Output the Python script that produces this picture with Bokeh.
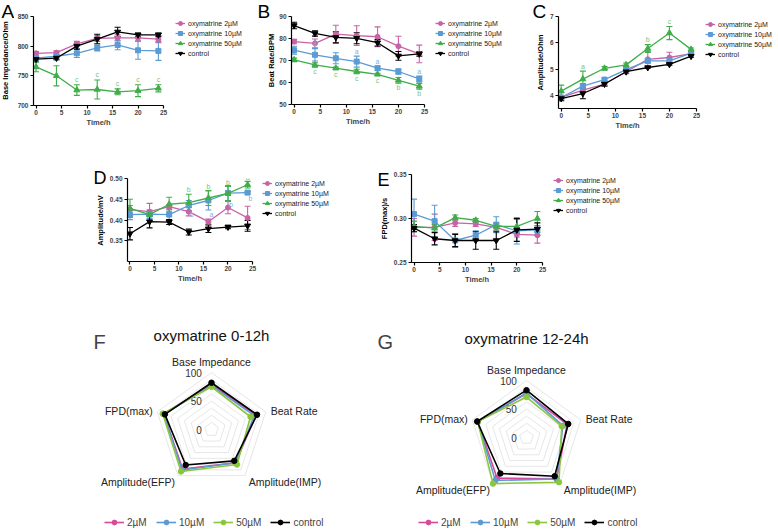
import math
from bokeh.plotting import figure
from bokeh.models import (ColumnDataSource, Whisker, TeeHead, Legend, LegendItem,
                          Label, Range1d, FixedTicker, Spacer, PrintfTickFormatter)
from bokeh.layouts import row, column
from bokeh.embed import file_html
from bokeh.resources import INLINE
from bokeh.core.properties import value

FONT = "Liberation Sans"

# ---------------- data ----------------
time_h = [0, 4, 8, 12, 16, 20, 24]
series_names = ["oxymatrine 2\u00b5M", "oxymatrine 10\u00b5M", "oxymatrine 50\u00b5M", "control"]

# A: Base impedance (Ohm)
imp_2 = [788, 789, 804, 813, 814, 814, 812]
imp_2_err = [3, 3, 4, 5, 5, 5, 6]
imp_10 = [780, 783, 788, 797, 802, 793, 792]
imp_10_err = [3, 6, 7, 5, 8, 15, 16]
imp_50 = [765, 750, 726, 727, 723, 725, 729]
imp_50_err = [8, 17, 9, 16, 5, 10, 6]
imp_ctl = [778, 780, 800, 812, 824, 819, 819]
imp_ctl_err = [3, 3, 5, 8, 8, 3, 3]
imp_50_sig = ["", "", "c", "c", "c", "c", "c"]

# B: Beat rate (BPM)
br_2 = [78.6, 77.8, 82.0, 81.3, 80.8, 76.5, 73.0]
br_2_err = [1.0, 2.0, 4.0, 4.5, 4.5, 4.5, 4.0]
br_10 = [74.7, 72.6, 71.0, 69.5, 66.5, 65.0, 61.6]
br_10_err = [1.8, 2.8, 2.5, 2.5, 1.0, 1.2, 1.3]
br_50 = [70.3, 68.0, 66.5, 65.0, 63.7, 61.0, 58.3]
br_50_err = [0.8, 1.0, 0.5, 1.0, 0.5, 1.3, 1.3]
br_ctl = [85.9, 82.3, 80.5, 80.1, 78.1, 72.1, 73.0]
br_ctl_err = [1.5, 1.2, 2.5, 2.5, 1.5, 2.0, 1.0]
br_10_sig = ["", "a", "", "a", "a", "", "a"]
br_50_sig = ["", "c", "c", "c", "c", "b", "b"]

# C: Amplitude (Ohm)
amp_2 = [3.92, 4.20, 4.43, 4.90, 5.37, 5.44, 5.59]
amp_2_err = [0.06, 0.10, 0.06, 0.08, 0.30, 0.20, 0.04]
amp_10 = [3.92, 4.35, 4.60, 4.98, 5.31, 5.31, 5.61]
amp_10_err = [0.06, 0.10, 0.05, 0.05, 0.08, 0.10, 0.04]
amp_50 = [4.16, 4.62, 5.03, 5.16, 5.78, 6.37, 5.75]
amp_50_err = [0.23, 0.30, 0.07, 0.07, 0.15, 0.25, 0.05]
amp_ctl = [3.88, 4.07, 4.43, 4.90, 5.06, 5.18, 5.49]
amp_ctl_err = [0.08, 0.20, 0.08, 0.05, 0.03, 0.03, 0.04]
amp_50_sig = ["", "a", "", "", "b", "c", ""]

# D: Amplitude (mV)
efp_2 = [0.425, 0.420, 0.432, 0.420, 0.396, 0.430, 0.405]
efp_2_err = [0.010, 0.020, 0.005, 0.010, 0.006, 0.015, 0.028]
efp_10 = [0.413, 0.414, 0.413, 0.435, 0.447, 0.465, 0.466]
efp_10_err = [0.012, 0.010, 0.012, 0.012, 0.023, 0.018, 0.003]
efp_50 = [0.428, 0.413, 0.438, 0.442, 0.453, 0.464, 0.485]
efp_50_err = [0.022, 0.005, 0.017, 0.020, 0.018, 0.017, 0.008]
efp_ctl = [0.367, 0.396, 0.395, 0.371, 0.379, 0.383, 0.386]
efp_ctl_err = [0.015, 0.015, 0.006, 0.007, 0.009, 0.004, 0.013]
efp_10_sig = ["", "", "", "b", "a", "b", "b"]
efp_50_sig = ["", "", "", "b", "b", "b", "a"]

# E: FPD(max) (s)
fpd_2 = [0.290, 0.290, 0.295, 0.294, 0.290, 0.282, 0.281]
fpd_2_err = [0.010, 0.015, 0.004, 0.003, 0.004, 0.003, 0.009]
fpd_10 = [0.305, 0.297, 0.275, 0.281, 0.293, 0.286, 0.287]
fpd_10_err = [0.017, 0.018, 0.008, 0.005, 0.009, 0.015, 0.003]
fpd_50 = [0.291, 0.289, 0.301, 0.298, 0.291, 0.291, 0.300]
fpd_50_err = [0.006, 0.004, 0.003, 0.002, 0.004, 0.008, 0.008]
fpd_ctl = [0.289, 0.277, 0.275, 0.275, 0.275, 0.287, 0.288]
fpd_ctl_err = [0.004, 0.007, 0.007, 0.010, 0.010, 0.013, 0.007]

# F, G: radar (normalised, 0-100)
radar_axes = ["Base Impedance", "Beat Rate", "Amplitude(IMP)", "Amplitude(EFP)", "FPD(max)"]
radar_groups = ["2\u00b5M", "10\u00b5M", "50\u00b5M", "control"]
radar_ticks = [0, 50, 100]
f_2 = [79, 82, 72, 86, 88]
f_10 = [77, 79, 72, 88, 88]
f_50 = [75, 72, 76, 91, 90]
f_ctl = [82, 84, 68, 77, 86]
g_2 = [77, 75, 90, 88, 90]
g_10 = [78, 67, 90, 93, 90]
g_50 = [71, 65, 97, 100, 90]
g_ctl = [83, 77, 84, 78, 91]

# ---------------- styles ----------------
LINE_COLORS = ["#c763a6", "#5b9bd5", "#3fae49", "#000000"]
SIG_COLORS = ["#c763a6", "#7fb0de", "#79c27e", "#000000"]
MARKERS = ["circle", "square", "triangle", "inverted_triangle"]
MSIZES = [5, 5, 6, 6]
RADAR_COLORS = ["#d9489a", "#5b9bd5", "#8cc63f", "#000000"]


def blank(w, h, x0=0, y0=0):
    p = figure(width=w, height=h, output_backend="svg", toolbar_location=None,
               x_range=Range1d(x0, x0 + w), y_range=Range1d(y0, y0 + h), min_border=0,
               x_axis_location=None, y_axis_location=None, outline_line_color=None,
               background_fill_color=None, border_fill_color=None, frame_align=False)
    p.grid.visible = False
    return p


def strip(w, h, letter, lx, ly, lsize, ylabel, yx, yy):
    """Panel letter and rotated y-axis title (positions in px from the strip's top-left)."""
    p = blank(w, h)
    p.text(x=[lx], y=[h - ly], text=[letter], text_font=value(FONT), text_font_size=lsize,
           text_align="left", text_baseline="top", text_color="#000000")
    p.text(x=[yx], y=[h - yy], text=[ylabel], angle=math.pi / 2, text_font=value(FONT),
           text_font_size="7.5px", text_font_style="bold", text_align="center",
           text_baseline="middle", text_color="#000000")
    return p


def legend_fig(w, h, lx, ltop, ys):
    # the series are drawn far outside this small panel's view; only the legend shows
    p = blank(w, h, x0=-10000, y0=-10000)
    items = []
    for i in range(4):
        c = LINE_COLORS[i]
        ln = p.line(time_h, ys[i], line_color=c, line_width=1.3)
        mk = p.scatter(time_h, ys[i], marker=MARKERS[i], size=MSIZES[i],
                       fill_color=c, line_color=c)
        items.append(LegendItem(label=series_names[i], renderers=[ln, mk]))
    p.add_layout(Legend(items=items, location=(lx, h - ltop - 40), orientation="vertical",
                        border_line_color=None, background_fill_alpha=0,
                        padding=0, margin=0, spacing=0, glyph_width=10, glyph_height=10,
                        label_height=10, label_standoff=3, label_text_color="#222222",
                        label_text_font=FONT, label_text_font_size="7px"))
    return p


def line_panel(ylim, yticks, yfmt, ys, errs, sigs, sig_mode, sig_pad, width, height, mb):
    ml, mr, mt, mbm = mb
    p = figure(width=width, height=height, output_backend="svg", toolbar_location=None,
               x_range=Range1d(-0.5, 25), y_range=Range1d(*ylim),
               min_border_left=ml, min_border_right=mr, min_border_top=mt,
               min_border_bottom=mbm, outline_line_color=None, background_fill_color=None,
               border_fill_color=None, frame_align=False)
    p.grid.visible = False
    for ax in (p.xaxis[0], p.yaxis[0]):
        ax.axis_line_width = 1.2
        ax.major_tick_line_width = 1.2
        ax.major_tick_out = 3
        ax.major_tick_in = 0
        ax.minor_tick_line_color = None
        ax.major_label_text_font = FONT
        ax.major_label_text_font_size = "6.5px"
        ax.major_label_text_font_style = "bold"
        ax.major_label_standoff = 2
        ax.axis_label_text_font = FONT
        ax.axis_label_text_font_size = "7.5px"
        ax.axis_label_text_font_style = "bold"
        ax.axis_label_standoff = 2
    p.xaxis.major_label_standoff = 1
    p.xaxis.axis_label_standoff = 0
    p.xaxis.ticker = FixedTicker(ticks=[0, 5, 10, 15, 20, 25])
    p.yaxis.ticker = FixedTicker(ticks=yticks)
    p.yaxis.formatter = PrintfTickFormatter(format=yfmt)
    p.xaxis.axis_label = "Time/h"

    for i in range(4):
        c = LINE_COLORS[i]
        up = [v + e for v, e in zip(ys[i], errs[i])]
        lo = [v - e for v, e in zip(ys[i], errs[i])]
        src = ColumnDataSource(dict(x=time_h, y=ys[i], up=up, lo=lo))
        p.add_layout(Whisker(base="x", upper="up", lower="lo", source=src, dimension="height",
                             line_color=c, line_width=1.1,
                             upper_head=TeeHead(size=6, line_color=c, line_width=1.1),
                             lower_head=TeeHead(size=6, line_color=c, line_width=1.1)))
        p.line("x", "y", source=src, line_color=c, line_width=1.3)
        p.scatter("x", "y", source=src, marker=MARKERS[i], size=MSIZES[i],
                  fill_color=c, line_color=c)
        if sigs[i] is not None:
            tx, ty, tt = [], [], []
            for t, v, e, s in zip(time_h, ys[i], errs[i], sigs[i]):
                if not s:
                    continue
                if sig_mode[i] == "above":
                    tx.append(t); ty.append(v + e + sig_pad)
                elif sig_mode[i] == "below":
                    tx.append(t); ty.append(v - e - sig_pad)
                else:  # right-below
                    tx.append(t + 0.6); ty.append(v - e - sig_pad)
                tt.append(s)
            p.text(x=tx, y=ty, text=tt, text_color=SIG_COLORS[i], text_font=value(FONT),
                   text_font_size="7px", text_align="center",
                   text_baseline="bottom" if sig_mode[i] == "above" else "top")
    return p


none4 = [None, None, None, None]
H1, H2 = 132, 155
A_Y = [imp_2, imp_10, imp_50, imp_ctl]
B_Y = [br_2, br_10, br_50, br_ctl]
C_Y = [amp_2, amp_10, amp_50, amp_ctl]
D_Y = [efp_2, efp_10, efp_50, efp_ctl]
E_Y = [fpd_2, fpd_10, fpd_50, fpd_ctl]

# Row 1 (page y 0..132)
sA = strip(14, H1, "A", 1, 0, "19px", "Base Impedance/Ohm", 5, 60)
pA = line_panel((700, 850), [700, 750, 800, 850], "%d", A_Y,
                [imp_2_err, imp_10_err, imp_50_err, imp_ctl_err],
                [None, None, imp_50_sig, None], [None, None, "above", None], 3,
                154, H1, (16, 5, 16, 27))
lA = legend_fig(82, H1, 7, 18, A_Y)
sB = strip(26, H1, "B", 7, 0, "19px", "Beat Rate/BPM", 21, 60)
pB = line_panel((50, 90), [50, 60, 70, 80, 90], "%d", B_Y,
                [br_2_err, br_10_err, br_50_err, br_ctl_err],
                [None, br_10_sig, br_50_sig, None], [None, "above", "below", None], 0.6,
                153, H1, (14, 5, 16, 28))
lB = legend_fig(76, H1, 6, 18, B_Y)
sC = strip(41, H1, "C", 27, 0, "19px", "Amplitude/Ohm", 35, 62)
pC = line_panel((3.5, 7), [4, 5, 6, 7], "%d", C_Y,
                [amp_2_err, amp_10_err, amp_50_err, amp_ctl_err],
                [None, None, amp_50_sig, None], [None, None, "above", None], 0.06,
                155, H1, (10, 5, 16, 24))
lC = legend_fig(77, H1, 4, 19, C_Y)

# Row 2 (page y 132..287)
sD = strip(26, H2, "D", 13, 35, "18px", "Amplitude/mV", 20, 88)
pD = line_panel((0.30, 0.50), [0.35, 0.40, 0.45, 0.50], "%.2f", D_Y,
                [efp_2_err, efp_10_err, efp_50_err, efp_ctl_err],
                [None, efp_10_sig, efp_50_sig, None], [None, "right", "above", None], 0.002,
                151, H2, (20, 5, 46, 26))
lD = legend_fig(83, H2, 5, 46, D_Y)
sE = strip(20, H2, "E", 7, 37, "18px", "FPD(max)/s", 14, 86)
pE = line_panel((0.25, 0.35), [0.25, 0.30, 0.35], "%.2f", E_Y,
                [fpd_2_err, fpd_10_err, fpd_50_err, fpd_ctl_err],
                none4, none4, 0,
                157, H2, (20, 5, 42, 25))
lE = legend_fig(83, H2, 6, 43, E_Y)

# Row 3 (page y 287..530): radar charts
S = 0.57  # px per radar unit
ROW3_TOP, ROW3_H = 287, 243
ANG = [90, 18, -54, -126, -198]
LABEL_POS = [(0, 118, "center"), (104, 32, "left"), (129, -92, "center"),
             (-129, -92, "center"), (-103, 32, "right")]


def radar(title, vals, fig_left, fig_w, cx, cy, title_y, letter, letter_xy, legend_x):
    top, h = ROW3_TOP, ROW3_H
    xr = Range1d((fig_left - cx) / S, (fig_left + fig_w - cx) / S)
    yr = Range1d((cy - (top + h)) / S, (cy - top) / S)
    p = figure(width=fig_w, height=h, output_backend="svg", toolbar_location=None,
               x_range=xr, y_range=yr, min_border=0, outline_line_color=None,
               x_axis_location=None, y_axis_location=None,
               background_fill_color=None, border_fill_color=None, frame_align=False)
    p.grid.visible = False
    rad = [math.radians(a) for a in ANG]
    gx, gy = [], []
    for k in range(1, 9):
        r = 12.5 * k
        gx.append([r * math.cos(a) for a in rad] + [r * math.cos(rad[0])])
        gy.append([r * math.sin(a) for a in rad] + [r * math.sin(rad[0])])
    p.multi_line(gx, gy, line_color="#e3e3e3", line_width=0.9)
    p.text(x=[-17] * len(radar_ticks), y=radar_ticks, text=[str(t) for t in radar_ticks],
           text_font=value(FONT), text_font_size="10px", text_align="right",
           text_baseline="middle", text_color="#333333")
    for (lx, ly, al), name in zip(LABEL_POS, radar_axes):
        p.text(x=[lx], y=[ly], text=[name], text_font=value(FONT), text_font_size="10.5px",
               text_align=al, text_baseline="middle", text_color="#222222")
    items = []
    for i, v in enumerate(vals):
        xs = [r * math.cos(a) for r, a in zip(v, rad)]
        ys = [r * math.sin(a) for r, a in zip(v, rad)]
        c = RADAR_COLORS[i]
        ln = p.line(xs + xs[:1], ys + ys[:1], line_color=c, line_width=1.6)
        mk = p.scatter(xs, ys, size=5.5, fill_color=c, line_color=c)
        items.append(LegendItem(label=radar_groups[i], renderers=[ln, mk]))
    p.text(x=[0], y=[(cy - title_y) / S], text=[title], text_font=value(FONT),
           text_font_size="15px", text_align="center", text_baseline="middle",
           text_color="#111111")
    p.add_layout(Label(x=letter_xy[0] - fig_left, y=h - (letter_xy[1] - top),
                       x_units="screen", y_units="screen", text=letter,
                       text_font=FONT, text_font_size="20px",
                       text_align="left", text_baseline="top"))
    leg = Legend(items=items, location=(legend_x - fig_left, 2), orientation="horizontal",
                 border_line_color=None, background_fill_alpha=0, padding=0, margin=0,
                 spacing=9, glyph_width=20, glyph_height=12, label_height=12,
                 label_standoff=3, label_text_font=FONT, label_text_font_size="10px")
    p.add_layout(leg)
    return p


pF = radar("oxymatrine 0-12h", [f_2, f_10, f_50, f_ctl], 0, 370, 211, 429, 335,
           "F", (93, 330), 104)
pG = radar("oxymatrine 12-24h", [g_2, g_10, g_50, g_ctl], 370, 408, 526, 437, 338,
           "G", (377, 330), 418)

layout = column(
    row(sA, pA, lA, sB, pB, lB, sC, pC, lC),
    row(Spacer(width=80, height=H2), sD, pD, lD, Spacer(width=30, height=H2), sE, pE, lE),
    row(pF, pG),
)

with open("out.html", "w") as f:
    f.write(file_html(layout, INLINE))
